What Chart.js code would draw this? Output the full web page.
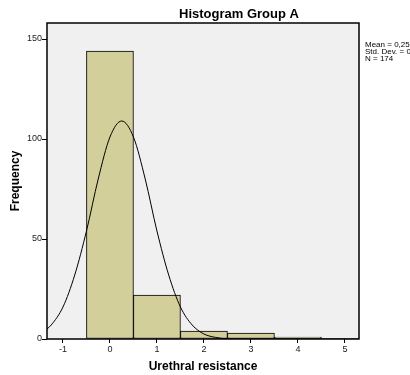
<!DOCTYPE html>
<html>
<head>
<meta charset="utf-8">
<script src="https://cdn.jsdelivr.net/npm/chart.js@4"></script>
<style>
  html, body { margin: 0; padding: 0; background: #fff; }
  #wrap { width: 410px; height: 375px; }
</style>
</head>
<body>
<div id="wrap"><canvas id="hist"></canvas></div>
<script>
// histogram bins (centre of bin) and counts
const binCenters = [0, 1, 2, 3, 4];
const binCounts = [144, 22, 4, 3, 1];

// fitted normal curve
const curveX = [-1.34, -1.25, -1, -0.75, -0.5, -0.25, 0, 0.25, 0.5, 0.75, 1, 1.25, 1.5, 1.75, 2, 2.25, 2.5, 3, 5.3];
const curveY = [5, 7, 16, 32, 54, 80, 101, 109, 101, 80, 54, 32, 16, 7, 2.5, 0.8, 0.1, 0, 0];

const xTickValues = [-1, 0, 1, 2, 3, 4, 5];
const yTickValues = [0, 50, 100, 150];
const statsLines = ['Mean = 0,25', 'Std. Dev. = 0,637', 'N = 174'];

const FONT = 'Arial, "Liberation Sans", sans-serif';

const decorations = {
    id: 'decorations',
    beforeDraw(chart) {
        const { ctx, chartArea: a } = chart;
        ctx.save();
        ctx.fillStyle = '#f0f0f0';
        ctx.fillRect(a.left, a.top, a.right - a.left, a.bottom - a.top);
        ctx.restore();
    },
    afterDraw(chart) {
        const { ctx, chartArea: a } = chart;
        ctx.save();
        ctx.strokeStyle = '#000';
        ctx.lineWidth = 1.5;
        ctx.strokeRect(a.left, a.top, a.right - a.left, a.bottom - a.top);

        ctx.fillStyle = '#000';
        ctx.textAlign = 'center';
        ctx.textBaseline = 'middle';
        ctx.font = 'bold 13px ' + FONT;
        ctx.fillText('Histogram Group A', 239, 14);

        ctx.font = 'bold 12px ' + FONT;
        ctx.fillText('Urethral resistance', 203, 367);

        ctx.translate(16, 181);
        ctx.rotate(-Math.PI / 2);
        ctx.fillText('Frequency', 0, 0);
        ctx.restore();

        ctx.save();
        ctx.fillStyle = '#000';
        ctx.font = '8px ' + FONT;
        ctx.textAlign = 'left';
        ctx.textBaseline = 'middle';
        statsLines.forEach((s, i) => ctx.fillText(s, 365, 45 + i * 7));
        ctx.restore();
    }
};

new Chart(document.getElementById('hist'), {
    type: 'bar',
    data: {
        datasets: [{
            type: 'line',
            data: curveX.map((x, i) => ({ x: x, y: curveY[i] })),
            borderColor: '#000',
            borderWidth: 1,
            pointRadius: 0,
            fill: false,
            cubicInterpolationMode: 'monotone',
            order: 0
        }, {
            type: 'bar',
            data: binCenters.map((x, i) => ({ x: x, y: binCounts[i] })),
            backgroundColor: '#d3cf9a',
            borderColor: '#000',
            borderWidth: 1,
            borderSkipped: false,
            barPercentage: 1,
            categoryPercentage: 1,
            order: 1
        }]
    },
    options: {
        responsive: true,
        maintainAspectRatio: false,
        animation: false,
        layout: { padding: { left: 0, right: 51, top: 23, bottom: 0 } },
        plugins: {
            legend: { display: false },
            tooltip: { enabled: false }
        },
        scales: {
            x: {
                type: 'linear',
                offset: false,
                min: -1.34,
                max: 5.3,
                afterBuildTicks: s => { s.ticks = xTickValues.map(v => ({ value: v })); },
                afterFit: s => { s.height = 36; },
                grid: { offset: false, drawOnChartArea: false, color: '#000', tickLength: 4 },
                border: { display: false },
                ticks: { color: '#222', font: { size: 9, family: FONT }, padding: 1, maxRotation: 0 }
            },
            y: {
                min: 0,
                max: 158,
                afterBuildTicks: s => { s.ticks = yTickValues.map(v => ({ value: v })); },
                afterFit: s => { s.width = 47; },
                grid: { drawOnChartArea: false, color: '#000', tickLength: 5 },
                border: { display: false },
                ticks: { color: '#222', font: { size: 9, family: FONT }, padding: 0 }
            }
        }
    },
    plugins: [decorations]
});
</script>
</body>
</html>
